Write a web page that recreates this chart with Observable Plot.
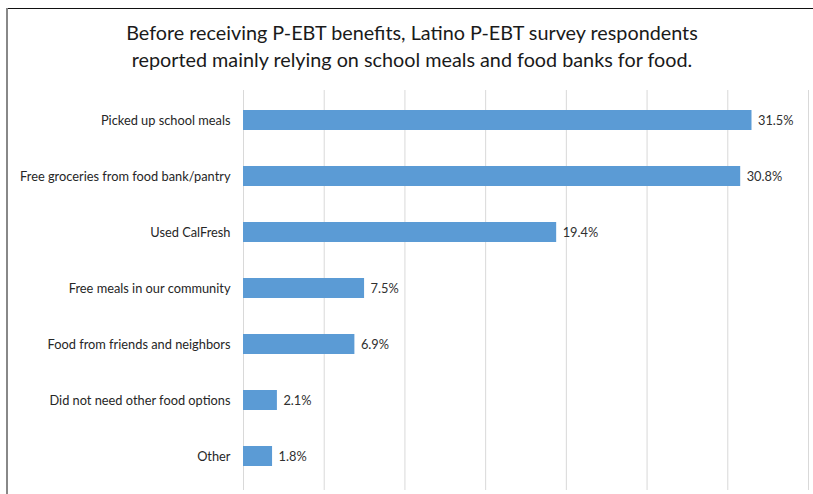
<!DOCTYPE html>
<html>
<head>
<meta charset="utf-8">
<script src="https://cdn.jsdelivr.net/npm/d3@7"></script>
<script src="https://cdn.jsdelivr.net/npm/@observablehq/plot@0.6"></script>
<style>
  html, body { margin: 0; padding: 0; background: #fff; }
  #wrap { position: relative; width: 813px; height: 494px; overflow: hidden; background: #fff; font-family: Lato, "Open Sans", sans-serif; }
  #frameTop { position: absolute; left: 6px; top: 8px; width: 807px; height: 0; border-top: 1.5px solid #111; }
  #frameLeft { position: absolute; left: 6px; top: 8px; width: 0; height: 490px; border-left: 2px solid #888; }
  #title { position: absolute; left: 0; top: 19px; width: 824px; text-align: center; font-size: 19.8px; line-height: 27px; color: #1a1a1a; }
  #chart { position: absolute; left: 0; top: 88px; }
</style>
</head>
<body>
<div id="wrap">
  <div id="frameTop"></div>
  <div id="frameLeft"></div>
  <div id="title">Before receiving P-EBT benefits, Latino P-EBT survey respondents<br>reported mainly relying on school meals and food banks for food.</div>
  <div id="chart"></div>
</div>
<script>
const categories = [
  "Picked up school meals",
  "Free groceries from food bank/pantry",
  "Used CalFresh",
  "Free meals in our community",
  "Food from friends and neighbors",
  "Did not need other food options",
  "Other"
];
const values = [31.5, 30.8, 19.4, 7.5, 6.9, 2.1, 1.8];
const gridTicks = [0, 5, 10, 15, 20, 25, 30, 35];

const data = categories.map((c, i) => ({category: c, value: values[i]}));

const plot = Plot.plot({
  width: 813,
  height: 406,
  marginLeft: 243,
  marginRight: 5,
  marginTop: 2,
  marginBottom: 4,
  style: {fontFamily: "Lato, 'Open Sans', sans-serif", fontSize: "12.8px", color: "#262626", background: "transparent"},
  x: {domain: [0, 35], axis: null},
  y: {domain: categories, range: [2.25, 397.75], paddingInner: 0.646, paddingOuter: 0.323, label: null},
  marks: [
    Plot.ruleX(gridTicks, {stroke: "#d9d9d9", strokeWidth: 1}),
    Plot.barX(data, {x: "value", y: "category", fill: "#5b9bd5"}),
    Plot.text(data, {x: "value", y: "category", text: d => d.value.toFixed(1) + "%", dx: 6, textAnchor: "start", fill: "#303030", fontSize: 12.8}),
    Plot.axisY({tickSize: 0, tickPadding: 13, label: null, fontSize: 12.8, fill: "#262626"})
  ]
});
document.getElementById("chart").appendChild(plot);
</script>
</body>
</html>
